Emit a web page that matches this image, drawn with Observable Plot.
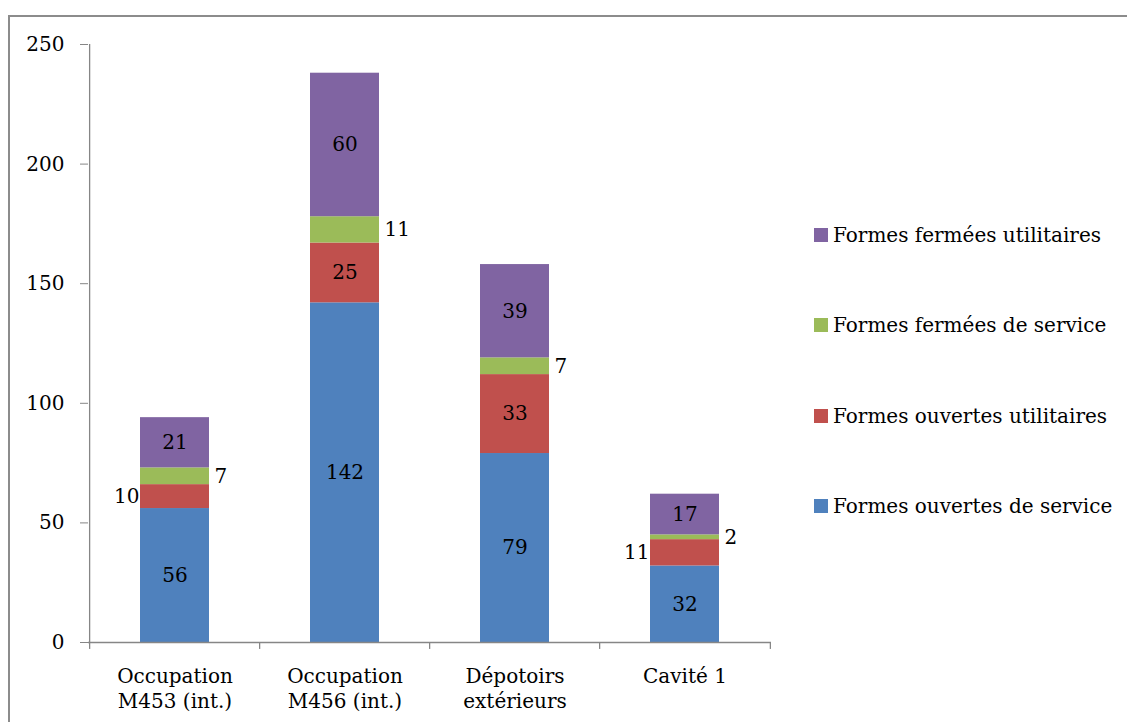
<!DOCTYPE html>
<html>
<head>
<meta charset="utf-8">
<script src="https://cdn.jsdelivr.net/npm/d3@7"></script>
<script src="https://cdn.jsdelivr.net/npm/@observablehq/plot@0.6"></script>
<style>
  html, body { margin: 0; padding: 0; background: #fff; overflow: hidden; width: 1127px; height: 722px; }
  #wrap { position: relative; width: 1127px; height: 722px; }
  #frame { position: absolute; left: 8px; top: 15px; width: 1400px; height: 1000px; border-top: 2px solid #8c8c8c; border-left: 2px solid #8c8c8c; box-sizing: border-box; }
  #chart { position: absolute; left: 0; top: 0; }
  #legend { position: absolute; left: 814px; top: 0; font-family: "DejaVu Serif", serif; font-size: 20px; color: #000; }
  .item { position: absolute; left: 0; white-space: nowrap; display: flex; align-items: center; height: 24px; }
  .sw { width: 14px; height: 14px; margin-right: 5px; flex: none; }
</style>
</head>
<body>
<div id="wrap">
  <div id="frame"></div>
  <div id="chart"></div>
  <div id="legend"></div>
</div>
<script>
// ---- data ----
const categories = ["M453", "M456", "Depotoirs", "Cavite1"];
const tickLabels = ["Occupation\nM453 (int.)", "Occupation\nM456 (int.)", "Dépotoirs\nextérieurs", "Cavité 1"];
const seriesNames = [
  "Formes ouvertes de service",
  "Formes ouvertes utilitaires",
  "Formes fermées de service",
  "Formes fermées utilitaires"
];
const seriesColors = ["#4F81BD", "#C0504D", "#9BBB59", "#8064A2"];
const ouvertesService = [56, 142, 79, 32];
const ouvertesUtilitaires = [10, 25, 33, 11];
const fermeesService = [7, 11, 7, 2];
const fermeesUtilitaires = [21, 60, 39, 17];
const yTicks = [0, 50, 100, 150, 200, 250];

// ---- table for Plot ----
const seriesValues = [ouvertesService, ouvertesUtilitaires, fermeesService, fermeesUtilitaires];
const table = [];
seriesNames.forEach((s, si) => {
  categories.forEach((c, ci) => {
    table.push({cat: c, series: s, si, value: seriesValues[si][ci]});
  });
});

// ---- layout ----
const W = 1127, H = 722;
const mL = 88, mR = 356, mT = 44, mB = 80;
const step = (W - mL - mR) / categories.length;
const pInner = 0.596, pOuter = 0.298;
const bw = step * (1 - pInner);
const axisGray = "#868686";

// label placement rules (by series)
const centered = d => d.si === 0 || d.si === 3 || (d.si === 1 && d.value >= 20);
const leftSide = d => d.si === 1 && d.value < 20;
const rightSide = d => d.si === 2;

const stackOpts = {x: "cat", y: "value", z: "series", order: null};

const plot = Plot.plot({
  width: W,
  height: H,
  marginLeft: mL,
  marginRight: mR,
  marginTop: mT,
  marginBottom: mB,
  style: {fontFamily: "DejaVu Serif", fontSize: "20px", color: "#000", background: "transparent", overflow: "visible"},
  x: {domain: categories, paddingInner: pInner, paddingOuter: pOuter, label: null},
  y: {domain: [0, 250], label: null},
  color: {domain: seriesNames, range: seriesColors},
  marks: [
    Plot.barY(table, Plot.stackY({...stackOpts, fill: "series"})),
    // y axis line
    Plot.ruleX([categories[0]], {dx: -step / 2, y1: 0, y2: 250, stroke: axisGray, strokeWidth: 1.3}),
    // x axis line
    Plot.ruleY([0], {stroke: axisGray, strokeWidth: 1.3}),
    // x ticks at category boundaries
    Plot.ruleX(categories, {dx: -step / 2, y1: 0, y2: -2.9, stroke: axisGray, strokeWidth: 1.3}),
    Plot.ruleX([categories[categories.length - 1]], {dx: step / 2, y1: 0, y2: -2.9, stroke: axisGray, strokeWidth: 1.3}),
    Plot.axisY({ticks: yTicks, tickSize: 8, tickPadding: 16, stroke: axisGray, fill: "#000", fontSize: 20, label: null}),
    Plot.axisX({tickSize: 0, tickPadding: 23, tickFormat: (d, i) => tickLabels[categories.indexOf(d)], lineHeight: 1.25, fill: "#000", fontSize: 20, label: null}),
    // data labels
    Plot.text(table, Plot.stackY({...stackOpts, text: d => centered(d) ? String(d.value) : "", fill: "#000", fontSize: 20})),
    Plot.text(table, Plot.stackY({...stackOpts, text: d => leftSide(d) ? String(d.value) : "", textAnchor: "end", dx: -bw / 2 - 1, fill: "#000", fontSize: 20})),
    Plot.text(table, Plot.stackY({...stackOpts, text: d => rightSide(d) ? String(d.value) : "", textAnchor: "start", dx: bw / 2 + 5, fill: "#000", fontSize: 20}))
  ]
});
document.getElementById("chart").appendChild(plot);

// ---- legend (top to bottom: reverse of stack order) ----
const legendTops = [235, 325, 416, 506];
const legend = document.getElementById("legend");
[3, 2, 1, 0].forEach((si, k) => {
  const item = document.createElement("div");
  item.className = "item";
  item.style.top = (legendTops[k] - 12) + "px";
  const sw = document.createElement("span");
  sw.className = "sw";
  sw.style.background = seriesColors[si];
  const tx = document.createElement("span");
  tx.textContent = seriesNames[si];
  item.appendChild(sw);
  item.appendChild(tx);
  legend.appendChild(item);
});
</script>
</body>
</html>
